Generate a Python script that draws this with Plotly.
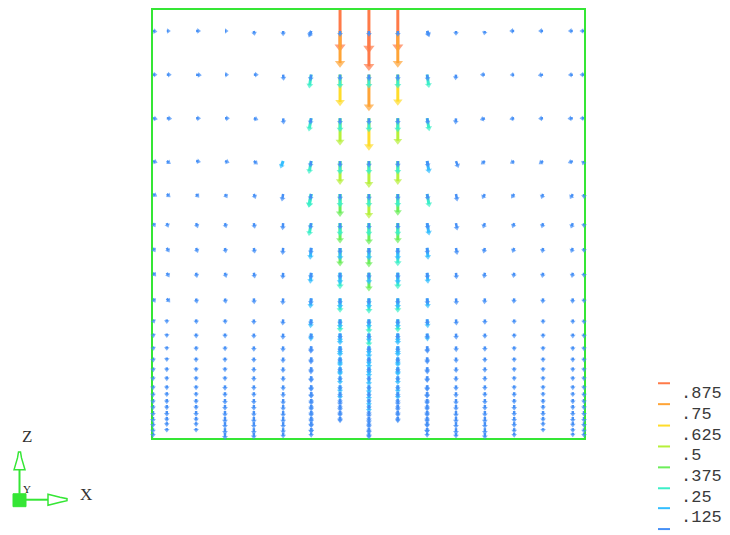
import math
import plotly.graph_objects as go

# ---------------- data ----------------
# grid columns (x, 0..1 across the box) and rows (z, 0..1 up the box)
X_COLS = [0.0, 0.032, 0.100, 0.167, 0.234, 0.302, 0.367, 0.434, 0.501,
          0.568, 0.636, 0.703, 0.770, 0.838, 0.905, 0.974, 1.0]
Z_ROWS = [0.951, 0.849, 0.747, 0.647, 0.570, 0.502, 0.444, 0.386, 0.326,
          0.277, 0.244, 0.214, 0.188, 0.165, 0.144, 0.123, 0.107, 0.091,
          0.077, 0.063, 0.049, 0.037, 0.023, 0.012]

# velocity magnitude of the main (largest) vector at each grid node
MAG = [
    [0.05, 0.04, 0.06, 0.03, 0.06, 0.07, 0.11, 0.80, 0.88, 0.80, 0.10, 0.06, 0.05, 0.06, 0.06, 0.06, 0.05],
    [0.05, 0.06, 0.08, 0.04, 0.06, 0.09, 0.27, 0.68, 0.80, 0.67, 0.26, 0.08, 0.06, 0.05, 0.07, 0.06, 0.05],
    [0.06, 0.07, 0.06, 0.06, 0.06, 0.09, 0.26, 0.58, 0.70, 0.56, 0.25, 0.09, 0.07, 0.06, 0.06, 0.07, 0.05],
    [0.06, 0.06, 0.06, 0.06, 0.07, 0.13, 0.25, 0.50, 0.57, 0.50, 0.24, 0.12, 0.07, 0.06, 0.07, 0.07, 0.05],
    [0.06, 0.06, 0.06, 0.06, 0.07, 0.12, 0.27, 0.48, 0.52, 0.45, 0.26, 0.12, 0.08, 0.07, 0.07, 0.08, 0.06],
    [0.06, 0.06, 0.07, 0.07, 0.08, 0.11, 0.25, 0.42, 0.45, 0.42, 0.24, 0.12, 0.08, 0.07, 0.07, 0.08, 0.06],
    [0.06, 0.07, 0.07, 0.07, 0.08, 0.11, 0.22, 0.38, 0.40, 0.37, 0.22, 0.11, 0.08, 0.07, 0.07, 0.07, 0.06],
    [0.06, 0.07, 0.07, 0.07, 0.08, 0.10, 0.20, 0.33, 0.38, 0.33, 0.20, 0.10, 0.08, 0.07, 0.07, 0.07, 0.06],
    [0.06, 0.07, 0.07, 0.07, 0.08, 0.10, 0.18, 0.28, 0.30, 0.28, 0.18, 0.10, 0.08, 0.07, 0.07, 0.07, 0.06],
    [0.05, 0.05, 0.06, 0.06, 0.07, 0.09, 0.15, 0.25, 0.28, 0.25, 0.15, 0.09, 0.07, 0.06, 0.06, 0.06, 0.06],
    [0.05, 0.05, 0.06, 0.06, 0.07, 0.09, 0.13, 0.22, 0.26, 0.22, 0.13, 0.09, 0.07, 0.06, 0.06, 0.06, 0.06],
    [0.05, 0.05, 0.06, 0.06, 0.07, 0.08, 0.12, 0.20, 0.24, 0.20, 0.12, 0.08, 0.07, 0.06, 0.06, 0.06, 0.06],
    [0.06, 0.05, 0.06, 0.06, 0.07, 0.08, 0.11, 0.18, 0.22, 0.18, 0.11, 0.08, 0.07, 0.06, 0.06, 0.06, 0.06],
    [0.06, 0.06, 0.06, 0.06, 0.07, 0.08, 0.11, 0.16, 0.20, 0.16, 0.11, 0.08, 0.07, 0.06, 0.06, 0.06, 0.06],
    [0.06, 0.06, 0.06, 0.06, 0.07, 0.08, 0.10, 0.15, 0.18, 0.15, 0.10, 0.08, 0.07, 0.06, 0.06, 0.06, 0.06],
    [0.06, 0.06, 0.06, 0.07, 0.07, 0.08, 0.10, 0.14, 0.16, 0.14, 0.10, 0.08, 0.07, 0.06, 0.06, 0.06, 0.06],
    [0.07, 0.06, 0.06, 0.07, 0.07, 0.08, 0.10, 0.13, 0.15, 0.13, 0.10, 0.08, 0.07, 0.07, 0.06, 0.06, 0.07],
    [0.07, 0.07, 0.07, 0.08, 0.08, 0.09, 0.10, 0.12, 0.14, 0.12, 0.10, 0.09, 0.08, 0.07, 0.07, 0.07, 0.07],
    [0.07, 0.07, 0.07, 0.08, 0.08, 0.09, 0.10, 0.11, 0.13, 0.11, 0.10, 0.09, 0.08, 0.08, 0.07, 0.07, 0.07],
    [0.08, 0.08, 0.08, 0.09, 0.09, 0.10, 0.10, 0.10, 0.12, 0.10, 0.10, 0.10, 0.09, 0.08, 0.08, 0.08, 0.08],
    [0.08, 0.07, 0.07, 0.10, 0.10, 0.10, 0.10, 0.09, 0.12, 0.09, 0.10, 0.10, 0.10, 0.08, 0.07, 0.08, 0.08],
    [0.08, 0.06, 0.06, 0.10, 0.10, 0.10, 0.09, 0.00, 0.11, 0.00, 0.09, 0.10, 0.10, 0.08, 0.06, 0.07, 0.08],
    [0.07, 0.05, 0.05, 0.10, 0.10, 0.09, 0.08, 0.00, 0.10, 0.00, 0.08, 0.10, 0.10, 0.07, 0.05, 0.06, 0.07],
    [0.06, 0.00, 0.00, 0.11, 0.10, 0.08, 0.06, 0.00, 0.10, 0.00, 0.06, 0.08, 0.10, 0.06, 0.00, 0.05, 0.06],
]

# direction of each vector, degrees clockwise from "up" (180 = straight down)
DIR = [
    [100, 90, 90, 90, 170, 180, 200, 180, 180, 180, 160, 180, 190, 270, 270, 270, 270],
    [90, 90, 95, 90, 90, 175, 188, 180, 180, 180, 172, 185, 270, 265, 260, 265, 270],
    [100, 95, 90, 90, 110, 175, 190, 180, 180, 180, 170, 185, 250, 260, 265, 265, 270],
    [110, 125, 100, 110, 130, 200, 190, 180, 180, 180, 170, 160, 230, 240, 235, 250, 200],
    [120, 130, 140, 150, 160, 190, 190, 180, 180, 180, 170, 170, 210, 215, 200, 210, 180],
    [150, 160, 160, 165, 170, 185, 190, 180, 180, 180, 170, 170, 200, 200, 195, 200, 180],
    [150, 150, 160, 170, 170, 185, 185, 180, 180, 180, 175, 170, 195, 200, 190, 200, 180],
    [140, 150, 170, 165, 170, 185, 185, 180, 180, 180, 175, 175, 190, 190, 190, 190, 180],
    [150, 140, 170, 170, 175, 185, 185, 180, 180, 180, 175, 175, 185, 185, 185, 185, 180],
    [160, 180, 175, 175, 180, 185, 185, 180, 180, 180, 175, 175, 180, 180, 180, 180, 180],
    [170, 180, 178, 178, 180, 183, 183, 180, 180, 180, 177, 177, 180, 180, 180, 180, 180],
    [170, 180, 178, 178, 180, 183, 183, 180, 180, 180, 177, 177, 180, 180, 180, 180, 180],
    [175, 180, 180, 180, 180, 182, 182, 180, 180, 180, 178, 178, 180, 180, 180, 180, 180],
    [175, 180, 180, 180, 180, 182, 182, 180, 180, 180, 178, 178, 180, 180, 180, 180, 180],
    [180, 180, 180, 180, 180, 180, 181, 180, 180, 180, 179, 180, 180, 180, 180, 180, 180],
    [180, 180, 180, 180, 180, 180, 181, 180, 180, 180, 179, 180, 180, 180, 180, 180, 180],
    [180, 180, 180, 180, 180, 180, 180, 180, 180, 180, 180, 180, 180, 180, 180, 180, 180],
    [180, 180, 180, 180, 180, 180, 180, 180, 180, 180, 180, 180, 180, 180, 180, 180, 180],
    [180, 180, 180, 180, 180, 180, 180, 180, 180, 180, 180, 180, 180, 180, 180, 180, 180],
    [180, 180, 180, 180, 180, 180, 180, 180, 180, 180, 180, 180, 180, 180, 180, 180, 180],
    [180, 180, 180, 180, 180, 180, 180, 180, 180, 180, 180, 180, 180, 180, 180, 180, 180],
    [180, 180, 180, 180, 180, 180, 180, 180, 180, 180, 180, 180, 180, 180, 180, 180, 180],
    [180, 180, 180, 180, 180, 180, 180, 180, 180, 180, 180, 180, 180, 180, 180, 180, 180],
    [180, 180, 180, 180, 180, 180, 180, 180, 180, 180, 180, 180, 180, 180, 180, 180, 180],
]

# inlet jets on the top wall
Z_INLET = 1.0
INLET_COLS = [7, 8, 9]
INLET_MAG = [0.92, 0.95, 0.92]

# slower vectors of the other depth planes, seen overlapping in the jet columns
LAYER_COLS = [6, 7, 8, 9, 10]
LAYER_LOW = [0.08, 0.10, 0.10, 0.10, 0.10, 0.10, 0.10, 0.10, 0.10, 0.09, 0.09, 0.09,
             0.08, 0.08, 0.08, 0.08, 0.08, 0.07, 0.07, 0.07, 0.07, 0.07, 0.07, 0.07]
LAYER_MID = [0.00, 0.27, 0.27, 0.26, 0.26, 0.25, 0.24, 0.22, 0.20, 0.17, 0.16, 0.15,
             0.14, 0.13, 0.00, 0.00, 0.00, 0.00, 0.00, 0.00, 0.00, 0.00, 0.00, 0.00]

LEVELS = [0.125, 0.25, 0.375, 0.5, 0.625, 0.75, 0.875]
LEVEL_LABELS = [".875", ".75", ".625", ".5", ".375", ".25", ".125"]
BAND_COLORS = ["#4690F6", "#33BEFF", "#3CEFC8", "#6CEE5A", "#B6F03A",
               "#FFDC2A", "#FFA436", "#FF7A48"]  # low -> high

# ---------------- build vectors ----------------
SCALE = 0.094  # data units of length per unit of speed

vectors = []  # (x, z, mag, dir)
for r, z in enumerate(Z_ROWS):
    for c, x in enumerate(X_COLS):
        m = MAG[r][c]
        if m > 0:
            vectors.append((x, z, m, DIR[r][c]))
for c, m in zip(INLET_COLS, INLET_MAG):
    vectors.append((X_COLS[c], Z_INLET, m, 180))
for r, z in enumerate(Z_ROWS):
    for c in LAYER_COLS:
        for m in (LAYER_MID[r], LAYER_LOW[r]):
            if 0 < m < MAG[r][c]:
                vectors.append((X_COLS[c], z, m, DIR[r][c]))


def band(m):
    return sum(1 for lv in LEVELS if m >= lv)


fig = go.Figure()
for b in range(len(BAND_COLORS) - 1, -1, -1):
    sel = [v for v in vectors if band(v[2]) == b]
    sel.sort(key=lambda v: -v[2])
    lx, lz, hx, hz, ang, sz = [], [], [], [], [], []
    for x, z, m, d in sel:
        L = m * SCALE
        ex = x + L * math.sin(math.radians(d))
        ez = z + L * math.cos(math.radians(d))
        lx += [x, ex, None]
        lz += [z, ez, None]
        hx.append(ex)
        hz.append(ez)
        ang.append(d)
        sz.append(4.6 + 5.5 * m)
    if not sel:
        continue
    col = BAND_COLORS[b]
    lw = 2.5 if b == 0 else 3
    fig.add_trace(go.Scatter(x=lx, y=lz, mode="lines", line=dict(color=col, width=lw),
                             hoverinfo="skip", showlegend=False, cliponaxis=False))
    fig.add_trace(go.Scatter(x=hx, y=hz, mode="markers",
                             marker=dict(symbol="triangle-up", size=sz, angle=ang, color=col,
                                         line=dict(width=0)),
                             hoverinfo="skip", showlegend=False, cliponaxis=False))

# ---------------- layout ----------------
W, H = 730, 535
L_M, R_M, T_M, B_M = 153, 146, 8, 97
PW, PH = W - L_M - R_M, H - T_M - B_M


def px(xp):
    return (xp - L_M) / PW


def py(yp):
    return (H - B_M - yp) / PH


GREEN = "#35E635"
shapes = []
annotations = []

# legend: colour swatches between the level labels
sw_y = [383, 404, 425.5, 446.5, 467.5, 488.5, 508.5, 529.5]
for i, yv in enumerate(sw_y):
    shapes.append(dict(type="line", xref="paper", yref="paper",
                       x0=px(658), x1=px(670), y0=py(yv), y1=py(yv),
                       line=dict(color=BAND_COLORS[len(BAND_COLORS) - 1 - i], width=2)))
lab_y = [393.5, 414.5, 435.5, 456, 477, 497.5, 518]
for t, yv in zip(LEVEL_LABELS, lab_y):
    annotations.append(dict(text=t, xref="paper", yref="paper", x=px(679), y=py(yv),
                            xanchor="left", yanchor="middle", showarrow=False,
                            font=dict(family="Liberation Mono", size=17, color="#3a3a3a")))

# axis triad
shapes.append(dict(type="line", xref="paper", yref="paper", x0=px(19.5), x1=px(19.5),
                   y0=py(494), y1=py(470), line=dict(color=GREEN, width=2), layer="above"))
shapes.append(dict(type="line", xref="paper", yref="paper", x0=px(26), x1=px(48),
                   y0=py(500), y1=py(500), line=dict(color=GREEN, width=2), layer="above"))


def path(pts):
    return "M " + " L ".join(f"{px(a):.5f},{py(b):.5f}" for a, b in pts) + " Z"


shapes.append(dict(type="path", xref="paper", yref="paper",
                   path=path([(14, 470), (17.5, 458), (18.5, 452), (20.5, 452), (21.5, 458), (25, 470)]),
                   line=dict(color=GREEN, width=1.5), fillcolor="white", layer="above"))
shapes.append(dict(type="path", xref="paper", yref="paper",
                   path=path([(48, 494.5), (60, 497.5), (67, 499), (67, 501), (60, 502.5), (48, 505.5)]),
                   line=dict(color=GREEN, width=1.5), fillcolor="white", layer="above"))
shapes.append(dict(type="rect", xref="paper", yref="paper", x0=px(13), x1=px(26),
                   y0=py(507), y1=py(494), line=dict(color=GREEN, width=1),
                   fillcolor=GREEN, layer="above"))
annotations.append(dict(text="Z", xref="paper", yref="paper", x=px(26.5), y=py(436.5),
                        xanchor="center", yanchor="middle", showarrow=False,
                        font=dict(family="Liberation Serif", size=17, color="#333")))
annotations.append(dict(text="X", xref="paper", yref="paper", x=px(85.5), y=py(495),
                        xanchor="center", yanchor="middle", showarrow=False,
                        font=dict(family="Liberation Serif", size=17, color="#333")))
annotations.append(dict(text="Y", xref="paper", yref="paper", x=px(27), y=py(489.5),
                        xanchor="center", yanchor="middle", showarrow=False,
                        font=dict(family="Liberation Serif", size=11, color="#222")))

axis = dict(range=[0, 1], showgrid=False, zeroline=False, showticklabels=False,
            ticks="", showline=True, mirror=True, linecolor=GREEN, linewidth=2,
            layer="below traces")
fig.update_layout(
    width=W, height=H, margin=dict(l=L_M, r=R_M, t=T_M, b=B_M, pad=0),
    paper_bgcolor="white", plot_bgcolor="white",
    xaxis=axis, yaxis=axis, shapes=shapes, annotations=annotations,
    showlegend=False,
)
fig.write_html("out.html")
